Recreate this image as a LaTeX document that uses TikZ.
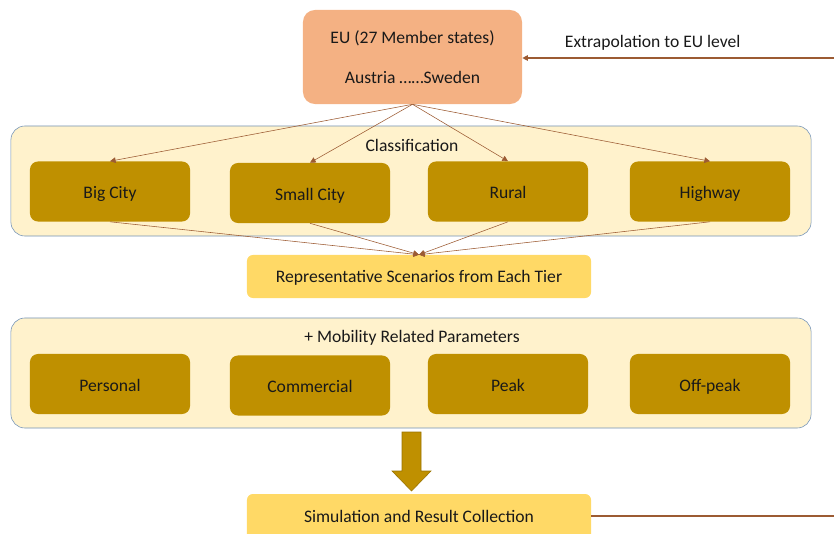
\documentclass[tikz,border=0pt]{standalone}
\usepackage{fontspec}
\setmainfont{Carlito}
\usepackage{tikz}
\usepackage{xcolor}
\usetikzlibrary{arrows.meta, calc, positioning}

\definecolor{euorange}{HTML}{F4B183}
\definecolor{panelfill}{HTML}{FFF2CC}
\definecolor{panelline}{HTML}{7393B8}
\definecolor{tiergold}{HTML}{BF9000}
\definecolor{scenyellow}{HTML}{FFD966}
\definecolor{linkbrown}{HTML}{9C5B33}

\begin{document}
\begin{tikzpicture}[x=0.025cm, y=-0.025cm,
    every node/.style={font=\fontsize{12.5}{15}\selectfont, text=black!90},
    panel/.style={draw=panelline, fill=panelfill, rounded corners=0.35cm,
      minimum width=20cm, minimum height=2.75cm},
    tierbox/.style={fill=tiergold, rounded corners=0.2cm,
      minimum width=4cm, minimum height=1.5cm, text height=11pt, text depth=1pt},
    scenbox/.style={fill=scenyellow, rounded corners=0.15cm,
      minimum width=8.6cm, minimum height=1.075cm, text height=10pt, text depth=1pt},
    link/.style={draw=linkbrown, -{Triangle[length=4pt,width=4pt]}}]
  \useasboundingbox (0,0) rectangle (834,533);
  \clip (0,0) rectangle (834,533);

  % EU level
  \node[fill=euorange, rounded corners=0.3cm, minimum width=5.475cm,
    minimum height=2.35cm, align=center] (eu) at (412.5,57)
    {EU (27 Member states)\\[13pt] Austria ……Sweden};
  \node[anchor=west] (extrap) at (560,43) {Extrapolation to EU level};

  % Classification panel
  \node[panel] (classpanel) at (411,181) {};
  \node (classlabel) at (412,145) {Classification};
  \node[tierbox] (bigcity) at (110,191.5) {Big City};
  \node[tierbox] (smallcity) at (310,193) {Small City};
  \node[tierbox] (rural) at (508,191.5) {Rural};
  \node[tierbox] (highway) at (710,191.5) {Highway};

  % Scenarios
  \node[scenbox] (repscen) at (419,276.5) {Representative Scenarios from Each Tier};

  % Mobility panel
  \node[panel] (mobpanel) at (411,373) {};
  \node (moblabel) at (412,338) {+ Mobility Related Parameters};
  \node[tierbox] (personal) at (110,384) {Personal};
  \node[tierbox] (commercial) at (310,385.5) {Commercial};
  \node[tierbox] (peak) at (508,384) {Peak};
  \node[tierbox] (offpeak) at (710,384) {Off-peak};

  % Simulation
  \node[scenbox, minimum height=1.4cm] (simres) at (419,522) {};
  \node (simlabel) at (419,516) {Simulation and Result Collection};

  % EU to tiers
  \foreach \t in {bigcity, smallcity, rural, highway}
    \draw[link] (eu.south) -- (\t.north);

  % tiers to scenarios
  \foreach \t in {bigcity, smallcity, rural, highway}
    \draw[link] (\t.south) -- (repscen.north);

  % Block arrow down
  \draw[fill=tiergold, draw=tiergold!80!black, line join=miter]
    (402,432) -- (421,432) -- (421,471) -- (431,471) -- (411.5,491)
    -- (392,471) -- (402,471) -- cycle;

  % Feedback to EU
  \coordinate (simout) at (834,516);
  \coordinate (extrapin) at (834,58);
  \draw[draw=linkbrown, thick] (simres.east |- simout) -- (simout);
  \draw[link, thick] (extrapin) -- (eu.east |- extrapin);
\end{tikzpicture}
\end{document}
